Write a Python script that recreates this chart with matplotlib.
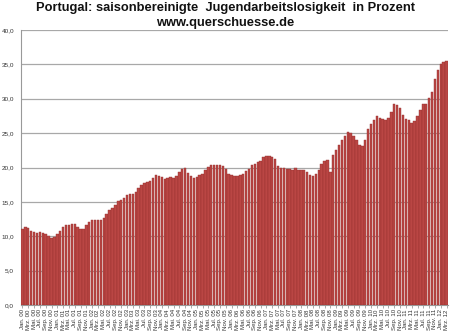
import matplotlib
matplotlib.use("Agg")
import matplotlib.pyplot as plt
import numpy as np

# Monthly youth unemployment rate, Portugal, seasonally adjusted (Jan 2000 - Mar 2012)
months_de = ["Jan.", "Feb.", "Mrz.", "Apr.", "Mai.", "Jun.",
             "Jul.", "Aug.", "Sep.", "Okt.", "Nov.", "Dez."]
start_year = 2000

rate_2000_2003 = [11.0, 11.4, 11.2, 10.7, 10.6, 10.5, 10.6, 10.5, 10.3, 10.0, 9.8, 9.9,
                  10.3, 10.8, 11.4, 11.7, 11.7, 11.8, 11.8, 11.3, 11.0, 11.1, 11.6, 12.1,
                  12.3, 12.4, 12.3, 12.4, 12.6, 13.3, 13.8, 14.1, 14.6, 15.1, 15.3, 15.6,
                  16.0, 16.1, 16.2, 16.5, 17.0, 17.4, 17.7, 17.9, 18.1]
rate_2003_2007 = [18.5, 18.9, 18.8, 18.6, 18.4, 18.5, 18.6, 18.5, 18.8, 19.4, 19.8, 20.0,
                  19.2, 18.7, 18.5, 18.6, 18.9, 19.1, 19.6, 20.1, 20.4, 20.4, 20.4, 20.3,
                  20.2, 19.8, 19.1, 18.9, 18.7, 18.7, 18.9, 19.0, 19.5, 19.8, 20.3, 20.5,
                  20.8, 21.0, 21.5, 21.7, 21.7, 21.6, 21.2, 20.2, 19.9, 19.9, 19.8, 19.8]
rate_2007_2012 = [19.65, 19.9, 19.65, 19.65, 19.6, 19.4, 18.9, 18.8, 19.0, 19.65, 20.5, 21.0,
                  21.1, 19.3, 21.8, 22.5, 23.3, 24.0, 24.6, 25.2, 25.0, 24.6, 24.0, 23.3,
                  23.2, 24.0, 25.6, 26.4, 26.9, 27.5, 27.2, 27.1, 26.9, 27.2, 28.1, 29.3,
                  29.1, 28.6, 27.7, 27.1, 26.9, 26.5, 26.7, 27.5, 28.3, 29.2, 29.3, 30.1,
                  31.0, 32.9, 34.2, 35.0, 35.3, 35.5]
rates = rate_2000_2003 + rate_2003_2007 + rate_2007_2012

labels = [f"{months_de[i % 12]} {(start_year + i // 12) % 100:02d}" for i in range(len(rates))]

fig = plt.figure(figsize=(4.5, 3.35), dpi=100)
ax = fig.add_axes([21 / 450, 1 - 305 / 335, 427 / 450, 275 / 335])

x = np.arange(len(rates))
ax.bar(x, rates, width=0.82, color="#BA4644", edgecolor="#963230", linewidth=0.3, zorder=3)

ax.set_xlim(-0.5, len(rates) - 0.5)
ax.set_ylim(0, 40)
ax.set_yticks(np.arange(0, 41, 5))
ax.set_yticklabels([f"{v:.1f}".replace(".", ",") for v in np.arange(0, 41, 5)],
                   fontsize=4.6, color="#333333", family="Liberation Sans")
ax.set_xticks(x[::2])
ax.set_xticklabels(labels[::2], rotation=90, fontsize=4.4, color="#333333",
                   family="Liberation Sans")
ax.tick_params(axis="y", length=0, pad=5)
ax.tick_params(axis="x", length=2, width=0.5, color="#888888", pad=1)

ax.grid(axis="y", color="#A8A8A8", linewidth=0.9, zorder=0)
for side in ("top", "right"):
    ax.spines[side].set_visible(False)
for side in ("left", "bottom"):
    ax.spines[side].set_color("#999999")
    ax.spines[side].set_linewidth(0.8)

fig.text(0.5, 1 - 8 / 335, "Portugal: saisonbereinigte  Jugendarbeitslosigkeit  in Prozent",
         ha="center", va="center", fontsize=9.3, fontweight="heavy", family="Liberation Sans",
         color="#111111")
fig.text(0.5, 1 - 23 / 335, "www.querschuesse.de",
         ha="center", va="center", fontsize=9.3, fontweight="heavy", family="Liberation Sans",
         color="#111111")

fig.savefig("out.png", dpi=100)
